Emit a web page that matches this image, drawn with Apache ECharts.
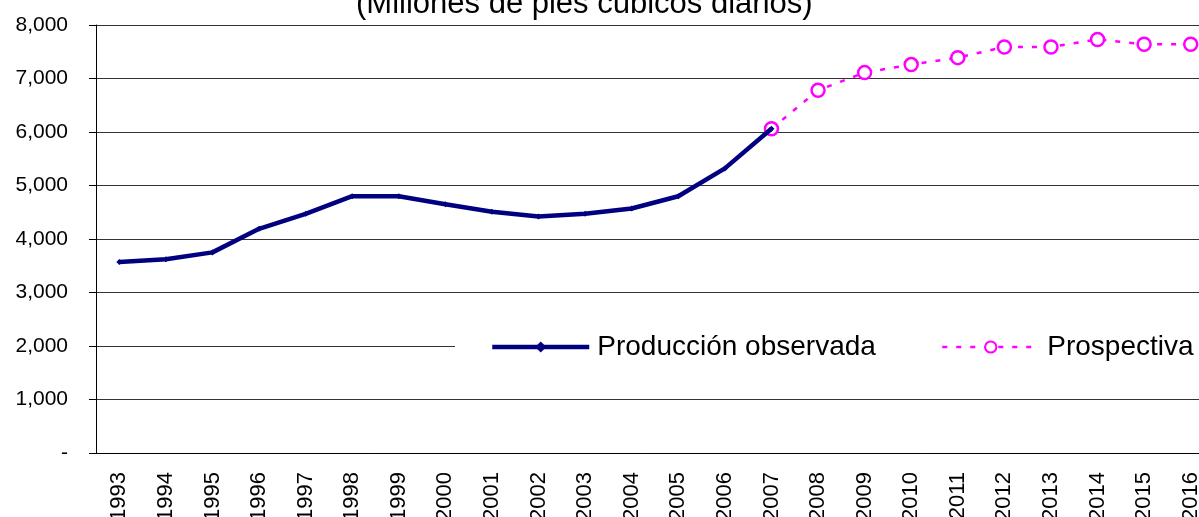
<!DOCTYPE html>
<html>
<head>
<meta charset="utf-8">
<title>Producción de gas</title>
<script src="https://cdn.jsdelivr.net/npm/echarts@6/dist/echarts.min.js"></script>
<style>
    html, body { margin: 0; padding: 0; background: #fff; }
    #chartsmain { width: 1199px; height: 517px; }
</style>
</head>
<body>
<div id="chartsmain"></div>
<script>
    // años
    var years = ['1993','1994','1995','1996','1997','1998','1999','2000','2001','2002','2003','2004',
                 '2005','2006','2007','2008','2009','2010','2011','2012','2013','2014','2015','2016'];
    // producción observada 1993-2007
    var observada = [3570, 3620, 3750, 4190, 4470, 4800, 4800, 4650, 4510, 4420, 4470, 4570,
                     4800, 5320, 6060];
    // prospectiva 2007-2016
    var prospectiva = [6060, 6780, 7110, 7260, 7390, 7590, 7590, 7730, 7640, 7640];
    var yTicks = [0, 1000, 2000, 3000, 4000, 5000, 6000, 7000, 8000];

    var prosData = [];
    for (var i = 0; i < years.length; i++) {
        var k = i - (years.length - prospectiva.length);
        prosData.push(k >= 0 ? prospectiva[k] : null);
    }

    var font = '"Liberation Sans", Arial, sans-serif';
    var legendText = { fontFamily: font, fontSize: 28, color: '#000', padding: [0, 0, 0, 3] };
    var chart = echarts.init(document.getElementById('chartsmain'));

    var option = {
        animation: false,
        title: {
            text: '(Millones de pies cúbicos diarios)',
            left: 356,
            top: -11,
            padding: 0,
            textStyle: { fontFamily: font, fontSize: 31, fontWeight: 'normal', color: '#000' }
        },
        legend: [
            {
                left: 455,
                top: 327,
                padding: [6, 40, 6, 35],
                backgroundColor: '#fff',
                itemWidth: 97,
                itemHeight: 14,
                textStyle: legendText,
                data: [{ name: 'Producción observada', lineStyle: { width: 4.5 } }]
            },
            {
                left: 906,
                top: 327,
                padding: [6, 30, 6, 35],
                backgroundColor: '#fff',
                itemWidth: 97,
                itemHeight: 14,
                textStyle: legendText,
                data: [{ name: 'Prospectiva', lineStyle: { width: 2.5 } }]
            }
        ],
        grid: { left: 96, top: 25, width: 1118, height: 428, outerBoundsMode: 'none' },
        xAxis: {
            type: 'category',
            data: years,
            boundaryGap: true,
            axisLine: { lineStyle: { color: '#000', width: 1 } },
            axisTick: { length: 7, lineStyle: { color: '#000' }, interval: 0 },
            axisLabel: { rotate: 90, interval: 0, margin: 19, fontFamily: font, fontSize: 22, color: '#000' }
        },
        yAxis: {
            type: 'value',
            min: 0,
            max: 8000,
            interval: 1000,
            axisLine: { show: true, lineStyle: { color: '#000', width: 1 } },
            axisTick: { show: true, length: 7, lineStyle: { color: '#000' } },
            splitLine: { lineStyle: { color: '#333', width: 1 } },
            axisLabel: {
                margin: 28,
                fontFamily: font,
                fontSize: 21,
                color: '#000',
                formatter: function (v) {
                    if (yTicks.indexOf(v) < 0) return '';
                    return v === 0 ? '-' : v.toLocaleString('en-US');
                }
            }
        },
        series: [
            {
                name: 'Producción observada',
                type: 'line',
                data: observada,
                symbol: 'diamond',
                symbolSize: 6,
                showSymbol: true,
                lineStyle: { color: '#000080', width: 4.5 },
                itemStyle: { color: '#000080' },
                z: 3
            },
            {
                name: 'Prospectiva',
                type: 'line',
                data: prosData,
                symbol: 'circle',
                symbolSize: 13,
                lineStyle: { color: '#ff00ff', width: 2.5, type: [5, 9] },
                itemStyle: { color: '#fff', borderColor: '#ff00ff', borderWidth: 2.5 },
                z: 2
            }
        ]
    };
    chart.setOption(option);
</script>
</body>
</html>
